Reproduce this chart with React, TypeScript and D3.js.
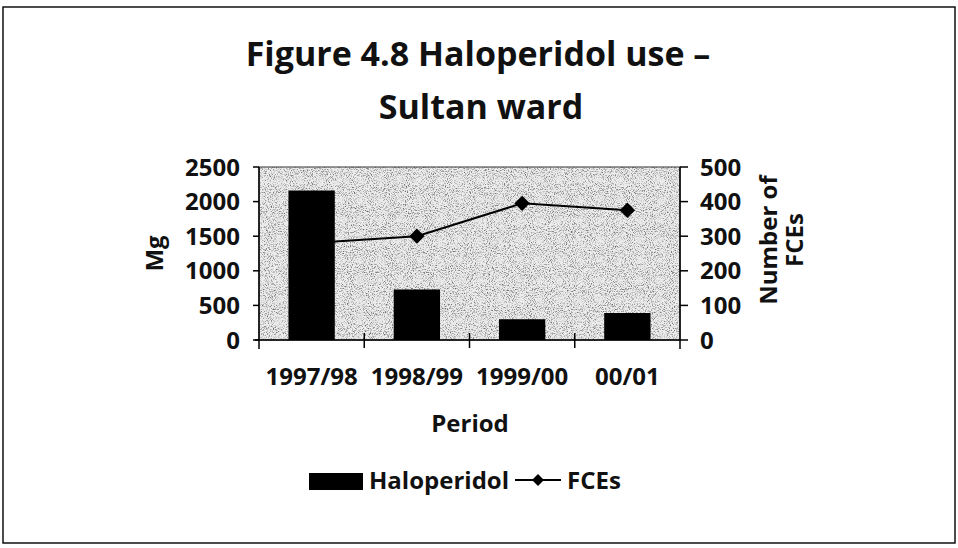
import React from 'react'
import * as d3 from 'd3'

const width = 958
const height = 548

const periods = ['1997/98', '1998/99', '1999/00', '00/01']
const haloperidolMg = [2160, 730, 300, 390]
const fceCounts = [280, 300, 395, 375]
const leftTicks = [0, 500, 1000, 1500, 2000, 2500]
const rightTicks = [0, 100, 200, 300, 400, 500]

const font = '"Open Sans", "DejaVu Sans", sans-serif'

const plot = { left: 259, right: 680, top: 167, bottom: 340 }

export default function App() {
  const x = d3
    .scaleBand<string>()
    .domain(periods)
    .range([plot.left, plot.right])
    .paddingInner(0.56)
    .paddingOuter(0.28)
  const yLeft = d3.scaleLinear().domain([0, 2500]).range([plot.bottom, plot.top])
  const yRight = d3.scaleLinear().domain([0, 500]).range([plot.bottom, plot.top])

  const step = x.step()
  const center = (p: string) => (x(p) || 0) + x.bandwidth() / 2
  // category boundaries carry the cross tick marks
  const boundaries = d3.range(periods.length + 1).map((i) => plot.left + i * step)

  const line = d3
    .line<number>()
    .x((_, i) => center(periods[i]))
    .y((d) => yRight(d))

  const diamond = d3.symbol().type(d3.symbolDiamond2).size(150)
  const legendDiamond = d3.symbol().type(d3.symbolDiamond2).size(90)

  const plotRect = {
    x: plot.left,
    y: plot.top,
    width: plot.right - plot.left,
    height: plot.bottom - plot.top,
  }

  return (
    <div style={{ position: 'absolute', left: 0, top: 0 }}>
      <svg width={width} height={height} style={{ display: 'block', background: '#fff' }}>
        <defs>
          {/* speckled scan look of the plot area */}
          <filter id="grain" x="0" y="0" width="100%" height="100%">
            <feTurbulence type="fractalNoise" baseFrequency="0.95" numOctaves="2" seed="7" />
            <feColorMatrix type="matrix" values="0 0 0 0 0  0 0 0 0 0  0 0 0 0 0  3 0 0 0 -1.45" />
          </filter>
        </defs>

        <rect x={3} y={7} width={952} height={536} fill="none" stroke="#111" strokeWidth={1.5} />

        <text x={478} y={66} textAnchor="middle" fontFamily={font} fontWeight={700} fontSize={34} fill="#111">
          Figure 4.8 Haloperidol use –
        </text>
        <text x={481} y={119} textAnchor="middle" fontFamily={font} fontWeight={700} fontSize={34} fill="#111">
          Sultan ward
        </text>

        {/* plot area */}
        <rect {...plotRect} fill="#ececec" />
        <rect {...plotRect} fill="#fff" filter="url(#grain)" opacity={0.55} />
        <rect {...plotRect} fill="none" stroke="#333" strokeWidth={1} />

        {/* bars */}
        {haloperidolMg.map((v, i) => (
          <rect
            key={periods[i]}
            x={x(periods[i])}
            y={yLeft(v)}
            width={x.bandwidth()}
            height={plot.bottom - yLeft(v)}
            fill="#000"
          />
        ))}

        {/* FCEs line */}
        <path d={line(fceCounts) || ''} fill="none" stroke="#000" strokeWidth={2} />
        {fceCounts.map((v, i) => (
          <path
            key={periods[i]}
            d={diamond() || ''}
            transform={`translate(${center(periods[i])},${yRight(v)})`}
            fill="#000"
          />
        ))}

        {/* left axis */}
        <line x1={plot.left} x2={plot.left} y1={plot.top} y2={plot.bottom + 9} stroke="#000" strokeWidth={1.5} />
        {leftTicks.map((t) => (
          <g key={t} transform={`translate(0,${yLeft(t)})`}>
            <line x1={plot.left - 6} x2={plot.left} stroke="#000" strokeWidth={1.5} />
            <text
              x={plot.left - 19}
              dy="0.36em"
              textAnchor="end"
              fontFamily={font}
              fontWeight={700}
              fontSize={24}
              fill="#111"
            >
              {t}
            </text>
          </g>
        ))}
        <text
          transform={`translate(163,${(plot.top + plot.bottom) / 2}) rotate(-90)`}
          textAnchor="middle"
          fontFamily={font}
          fontWeight={700}
          fontSize={24}
          fill="#111"
        >
          Mg
        </text>

        {/* right axis */}
        <line x1={plot.right} x2={plot.right} y1={plot.top} y2={plot.bottom + 9} stroke="#000" strokeWidth={1.5} />
        {rightTicks.map((t) => (
          <g key={t} transform={`translate(0,${yRight(t)})`}>
            <line x1={plot.right} x2={plot.right + 8} stroke="#000" strokeWidth={1.5} />
            <text x={plot.right + 20} dy="0.36em" fontFamily={font} fontWeight={700} fontSize={24} fill="#111">
              {t}
            </text>
          </g>
        ))}
        <text
          transform={`translate(777,240) rotate(-90)`}
          textAnchor="middle"
          fontFamily={font}
          fontWeight={700}
          fontSize={24}
          fill="#111"
        >
          Number of
        </text>
        <text
          transform={`translate(803,240) rotate(-90)`}
          textAnchor="middle"
          fontFamily={font}
          fontWeight={700}
          fontSize={24}
          fill="#111"
        >
          FCEs
        </text>

        {/* category axis */}
        <line x1={plot.left - 4} x2={plot.right} y1={plot.bottom} y2={plot.bottom} stroke="#000" strokeWidth={1.5} />
        {boundaries.slice(1, -1).map((bx) => (
          <line key={bx} x1={bx} x2={bx} y1={plot.bottom - 7} y2={plot.bottom + 8} stroke="#000" strokeWidth={1.5} />
        ))}
        {periods.map((p) => (
          <text
            key={p}
            x={center(p)}
            y={385}
            textAnchor="middle"
            fontFamily={font}
            fontWeight={700}
            fontSize={24}
            fill="#111"
          >
            {p}
          </text>
        ))}
        <text x={470} y={432} textAnchor="middle" fontFamily={font} fontWeight={700} fontSize={24} fill="#111">
          Period
        </text>

        {/* legend */}
        <rect x={309} y={473} width={54} height={17} fill="#000" />
        <text x={369} y={489} fontFamily={font} fontWeight={700} fontSize={24} fill="#111">
          Haloperidol
        </text>
        <line x1={515} x2={561} y1={480} y2={480} stroke="#000" strokeWidth={2} />
        <path d={legendDiamond() || ''} transform="translate(538,480)" fill="#000" />
        <text x={567} y={489} fontFamily={font} fontWeight={700} fontSize={24} fill="#111">
          FCEs
        </text>
      </svg>
    </div>
  )
}
